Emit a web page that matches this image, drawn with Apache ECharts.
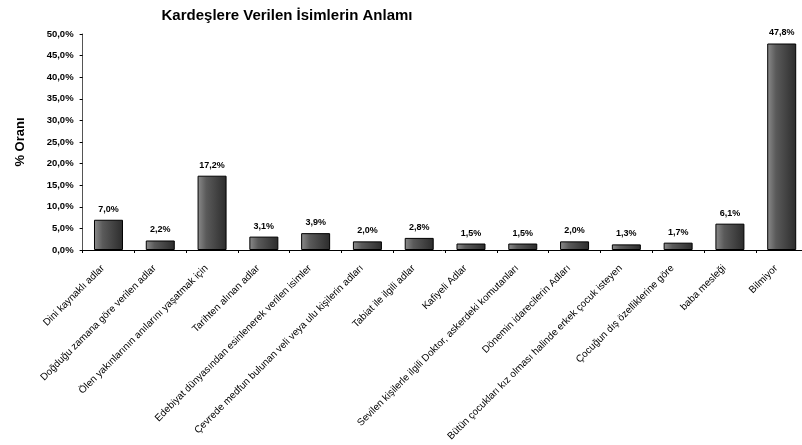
<!DOCTYPE html>
<html>
<head>
    <meta charset="UTF-8">
    <title>Kardeşlere Verilen İsimlerin Anlamı</title>
    <style>
        html, body { margin: 0; padding: 0; background: #fff; }
        #container { width: 802px; height: 445px; }
    </style>
</head>
<body>
    <div id="container"></div>
    <script src="https://cdn.jsdelivr.net/npm/echarts@6/dist/echarts.min.js"></script>
    <script>
        var categories = [
            'Dini kaynaklı adlar',
            'Doğduğu zamana göre verilen adlar',
            'Ölen yakınlarının anılarını yaşatmak için',
            'Tarihten alınan adlar',
            'Edebiyat dünyasından esinlenerek verilen isimler',
            'Çevrede medfun bulunan veli veya ulu kişilerin adları',
            'Tabiat ile ilgili adlar',
            'Kafiyeli Adlar',
            'Sevilen kişilerle ilgili Doktor, askerdeki komutanları',
            'Dönemin idarecilerin Adları',
            'Bütün çocukları kız olması halinde erkek çocuk isteyen',
            'Çocuğun dış özelliklerine göre',
            'baba mesleği',
            'Bilmiyor'
        ];
        var values = [7.0, 2.2, 17.2, 3.1, 3.9, 2.0, 2.8, 1.5, 1.5, 2.0, 1.3, 1.7, 6.1, 47.8];

        var font = '"Liberation Sans", Arial, sans-serif';

        function pct(v) {
            return v.toFixed(1).replace('.', ',') + '%';
        }

        var myChart = echarts.init(document.getElementById('container'));
        myChart.setOption({
            backgroundColor: '#fff',
            animation: false,
            title: {
                text: 'Kardeşlere Verilen İsimlerin Anlamı',
                left: 282,
                textAlign: 'center',
                top: 3,
                textStyle: { fontFamily: font, fontSize: 15, fontWeight: 'bold', color: '#000' }
            },
            // last category runs a bit past the right edge in the original
            grid: { left: 82.6, width: 725, top: 34, height: 216, outerBoundsMode: 'none' },
            xAxis: {
                type: 'category',
                data: categories,
                axisLine: { lineStyle: { color: '#000', width: 1 } },
                axisTick: { show: true, length: 3, lineStyle: { color: '#000' } },
                axisLabel: {
                    interval: 0,
                    rotate: 45,
                    margin: 11,
                    padding: [0, 8, 0, 0],
                    fontFamily: font,
                    fontSize: 10,
                    color: '#000'
                }
            },
            yAxis: {
                type: 'value',
                min: 0,
                max: 50,
                interval: 5,
                name: '% Oranı',
                nameLocation: 'middle',
                nameGap: 56,
                nameTextStyle: { fontFamily: font, fontSize: 13, fontWeight: 'bold', color: '#000' },
                splitLine: { show: false },
                axisLine: { show: true, lineStyle: { color: '#555', width: 1 } },
                axisTick: { show: true, length: 3, lineStyle: { color: '#000' } },
                axisLabel: {
                    margin: 9,
                    fontFamily: font,
                    fontSize: 9.5,
                    fontWeight: 'bold',
                    color: '#000',
                    formatter: function (v) { return pct(v); }
                }
            },
            series: [{
                type: 'bar',
                data: values,
                barWidth: 29,
                itemStyle: {
                    color: new echarts.graphic.LinearGradient(0, 0, 1, 0, [
                        { offset: 0, color: '#8c8c8c' },
                        { offset: 0.3, color: '#5a5a5a' },
                        { offset: 1, color: '#2c2c2c' }
                    ]),
                    borderColor: '#000',
                    borderWidth: 1
                },
                label: {
                    show: true,
                    position: 'top',
                    distance: 6,
                    fontFamily: font,
                    fontSize: 9,
                    fontWeight: 'bold',
                    color: '#000',
                    formatter: function (p) { return pct(p.value); }
                }
            }]
        });
    </script>
</body>
</html>
